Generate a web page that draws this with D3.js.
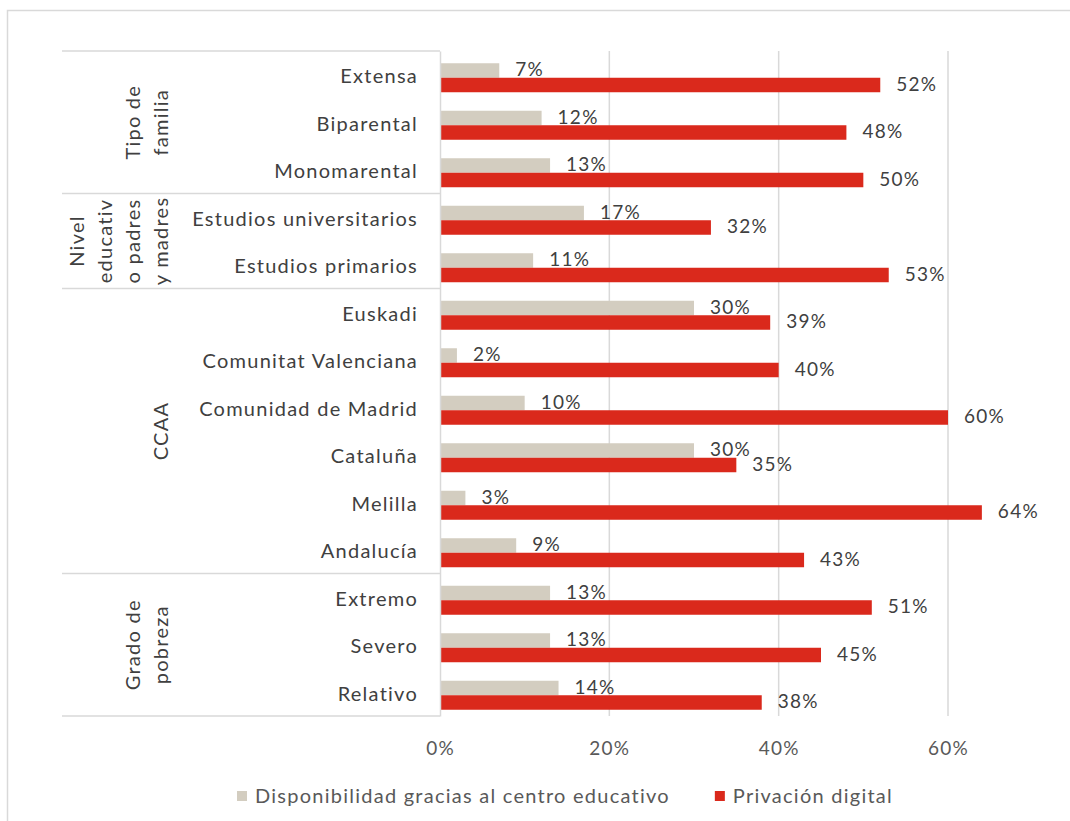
<!DOCTYPE html>
<html>
<head>
<meta charset="utf-8">
<script src="https://cdn.jsdelivr.net/npm/d3@7"></script>
<style>
  html, body { margin: 0; padding: 0; background: #fff; }
  svg { display: block; }
  text { font-family: Lato, "Open Sans", sans-serif; letter-spacing: 1.25px; }
</style>
</head>
<body>
<svg id="chart" width="1070" height="821"></svg>
<script>
// Categories, top to bottom
const categories = [
  "Extensa", "Biparental", "Monomarental",
  "Estudios universitarios", "Estudios primarios",
  "Euskadi", "Comunitat Valenciana", "Comunidad de Madrid", "Cataluña", "Melilla", "Andalucía",
  "Extremo", "Severo", "Relativo"
];
// Group headers (lines of each rotated label) and how many categories each spans
const groupLabels = [
  ["Tipo de", "familia"],
  ["Nivel", "educativ", "o padres", "y madres"],
  ["CCAA"],
  ["Grado de", "pobreza"]
];
const groupSizes = [3, 2, 6, 3];

const seriesNames = ["Disponibilidad gracias al centro educativo", "Privación digital"];
const disponibilidad = [7, 12, 13, 17, 11, 30, 2, 10, 30, 3, 9, 13, 13, 14];
const privacion = [52, 48, 50, 32, 53, 39, 40, 60, 35, 64, 43, 51, 45, 38];
const xTicks = [0, 20, 40, 60];

const colors = ["#d3cdc0", "#da291c"];
const gridColor = "#d9d9d9";

const svg = d3.select("#chart");

// outer frame
svg.append("rect")
  .attr("x", 7.5).attr("y", 10.5)
  .attr("width", 1080).attr("height", 830)
  .attr("fill", "none").attr("stroke", gridColor).attr("stroke-width", 1.5);

const plotTop = 51, plotBottom = 716, plotLeft = 440;
const x = d3.scaleLinear().domain([0, 60]).range([plotLeft, 948]);
const y = d3.scaleBand().domain(categories).range([plotTop, plotBottom]);
const barH = 14.5;
const inner = d3.scaleBand().domain([0, 1]).range([0, barH * 2]);

// vertical gridlines
svg.append("g")
  .selectAll("line")
  .data(xTicks.filter(t => t > 0))
  .join("line")
  .attr("x1", d => x(d)).attr("x2", d => x(d))
  .attr("y1", plotTop).attr("y2", plotBottom)
  .attr("stroke", gridColor).attr("stroke-width", 1.5);

// x axis tick labels
const xAxis = d3.axisBottom(x).tickValues(xTicks).tickFormat(d => d + "%").tickSize(0).tickPadding(0);
const gx = svg.append("g").attr("transform", `translate(0, ${plotBottom + 39})`).call(xAxis);
gx.select(".domain").remove();
gx.selectAll("text")
  .attr("dy", 0)
  .attr("font-size", 19)
  .attr("fill", "#595959")
  .style("font-family", "Lato, sans-serif");

// bars
const rows = categories.map((c, i) => ({ c, v: [disponibilidad[i], privacion[i]] }));
const rowG = svg.append("g").selectAll("g")
  .data(rows).join("g")
  .attr("transform", d => `translate(0, ${y(d.c) + y.bandwidth() / 2 - barH + 3})`);

rowG.selectAll("rect")
  .data(d => d.v.map((v, k) => ({ v, k })))
  .join("rect")
  .attr("x", x(0))
  .attr("y", d => inner(d.k))
  .attr("width", d => x(d.v) - x(0))
  .attr("height", barH)
  .attr("fill", d => colors[d.k]);

rowG.selectAll("text")
  .data(d => d.v.map((v, k) => ({ v, k })))
  .join("text")
  .attr("x", d => x(d.v) + 16)
  .attr("y", d => inner(d.k) + barH / 2)
  .attr("dy", "0.3em")
  .attr("font-size", 19)
  .attr("fill", "#404040")
  .text(d => d.v + "%");

// category axis with grouped header
const yAxis = d3.axisLeft(y).tickSize(0).tickPadding(22);
const gy = svg.append("g").attr("transform", `translate(${plotLeft}, 2)`).call(yAxis);
gy.select(".domain").attr("stroke", gridColor).attr("stroke-width", 1.5)
  .attr("transform", "translate(0,-2)");
gy.selectAll("text")
  .attr("font-size", 20)
  .attr("fill", "#404040")
  .style("font-family", "Lato, sans-serif");

// group separators and rotated group labels
let start = 0;
const bounds = [];
groupSizes.forEach(n => { bounds.push([start, start + n]); start += n; });
const edgeY = i => i < categories.length ? y(categories[i]) : plotBottom;

const hdr = svg.append("g");
hdr.append("line")
  .attr("x1", 62).attr("x2", plotLeft).attr("y1", plotTop).attr("y2", plotTop)
  .attr("stroke", gridColor).attr("stroke-width", 1.5);
bounds.forEach(([a, b], gi) => {
  const yb = edgeY(b);
  hdr.append("line")
    .attr("x1", 62).attr("x2", plotLeft).attr("y1", yb).attr("y2", yb)
    .attr("stroke", gridColor).attr("stroke-width", 1.5);
  const cy = (edgeY(a) + yb) / 2;
  const lines = groupLabels[gi];
  lines.forEach((t, li) => {
    const cx = 161 - (lines.length - 1 - li) * 28;
    hdr.append("text")
      .attr("transform", `translate(${cx}, ${cy}) rotate(-90)`)
      .attr("text-anchor", "middle")
      .attr("dy", "0.36em")
      .attr("font-size", 20)
      .attr("fill", "#404040")
      .text(t);
  });
});

// legend
const legend = svg.append("g").attr("transform", "translate(237, 796)");
let lx = 0;
seriesNames.forEach((name, k) => {
  const g = legend.append("g").attr("transform", `translate(${lx}, 0)`);
  g.append("rect").attr("x", 0).attr("y", -5).attr("width", 10).attr("height", 10).attr("fill", colors[k]);
  const t = g.append("text").attr("x", 18).attr("dy", "0.36em")
    .attr("font-size", 20).attr("fill", "#595959").text(name);
  lx += 18 + t.node().getComputedTextLength() + 45;
});
</script>
</body>
</html>
